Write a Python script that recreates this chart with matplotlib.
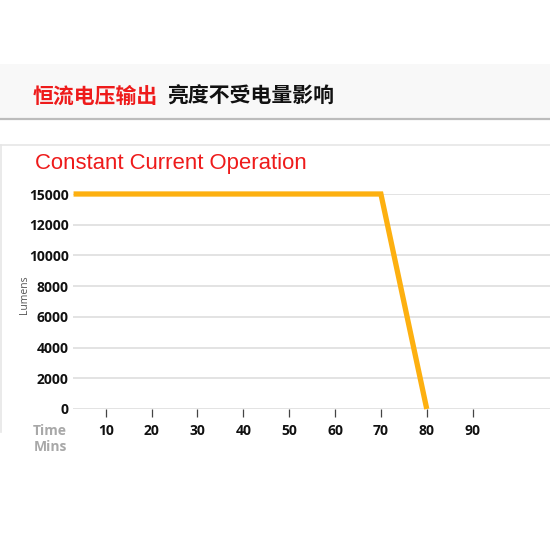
import matplotlib
matplotlib.use("Agg")
import matplotlib.pyplot as plt
import numpy as np
from matplotlib.patches import Rectangle
from matplotlib.lines import Line2D

# ---- data ----
time_mins = [3, 70, 80]
lumens = [15000, 15000, 0]
x_ticks = [10, 20, 30, 40, 50, 60, 70, 80, 90]
y_ticks = [0, 2000, 4000, 6000, 8000, 10000, 12000, 15000]
title_red = "恒流电压输出"
title_black = "亮度不受电量影响"
chart_title = "Constant Current Operation"

W = H = 550
fig = plt.figure(figsize=(5.5, 5.5), dpi=100)
fig.patch.set_facecolor("white")

def fx(px):
    return px / W

def fy(py):
    return 1 - py / H

# top banner
fig.patches.append(Rectangle((0, fy(118)), 1, fy(64) - fy(118), transform=fig.transFigure,
                             facecolor="#f8f8f8", edgecolor="none", zorder=0))
fig.lines.append(Line2D([0, 1], [fy(118.5), fy(118.5)], transform=fig.transFigure,
                        color="#bcbcbc", lw=1.6))
fig.text(fx(33), fy(96), title_red, color="#ee1b1b", fontsize=15, fontweight="heavy",
         family=["Noto Sans CJK SC", "DejaVu Sans"], va="center", ha="left")
fig.text(fx(167), fy(96), title_black, color="#111111", fontsize=15, fontweight="heavy",
         family=["Noto Sans CJK SC", "DejaVu Sans"], va="center", ha="left")

# chart box borders
fig.lines.append(Line2D([0, 1], [fy(145), fy(145)], transform=fig.transFigure,
                        color="#e6e6e6", lw=1.2))
fig.lines.append(Line2D([fx(1), fx(1)], [fy(145), fy(432)], transform=fig.transFigure,
                        color="#e6e6e6", lw=1.2))

fig.text(fx(35), fy(164), chart_title, color="#ee1b1b", fontsize=15.9,
         family="Liberation Sans", va="center", ha="left")

# x axis: px = 59.8 + 4.587 * t
def t_of(px):
    return (px - 59.8) / 4.587

# y axis: the top step (12000 -> 15000) is drawn the same height as a 2000 step
def y_fwd(y):
    y = np.asarray(y, dtype=float)
    return np.where(y <= 12000, y, 12000 + (y - 12000) * 2.0 / 3.0)

def y_inv(v):
    v = np.asarray(v, dtype=float)
    return np.where(v <= 12000, v, 12000 + (v - 12000) * 1.5)

ax = fig.add_axes([fx(73), fy(409), fx(550) - fx(73), fy(194) - fy(409)])
ax.set_yscale("function", functions=(y_fwd, y_inv))
ax.set_xlim(t_of(73), t_of(550))
ax.set_ylim(0, 15000)
for s in ax.spines.values():
    s.set_visible(False)
ax.set_facecolor("none")

ax.set_yticks(y_ticks)
ax.set_yticklabels([str(v) for v in y_ticks])
ax.yaxis.set_minor_locator(matplotlib.ticker.NullLocator())
ax.tick_params(axis="y", which="both", length=0, pad=3)
ax.set_xticks(x_ticks)
ax.set_xticklabels([str(v) for v in x_ticks])
ax.tick_params(axis="x", direction="out", length=5.5, width=0.9, color="#444444", pad=5)
for lab in ax.get_xticklabels() + ax.get_yticklabels():
    lab.set_fontfamily("Open Sans")
    lab.set_fontweight("bold")
    lab.set_fontsize(10)
    lab.set_color("#111111")

ax.yaxis.grid(True, color="#e3e3e3", lw=1.4)
ax.xaxis.grid(False)
ax.set_axisbelow(True)

ax.plot(time_mins, lumens, color="#fdb010", lw=3.8, solid_joinstyle="miter",
        solid_capstyle="butt", clip_on=False, zorder=3)

fig.text(fx(67), fy(431), "Time", color="#a8a8a8", fontsize=10, fontweight="bold",
         family="Open Sans", ha="right", va="center")
fig.text(fx(67), fy(447), "Mins", color="#a8a8a8", fontsize=10, fontweight="bold",
         family="Open Sans", ha="right", va="center")
fig.text(fx(25), fy(295), "Lumens", color="#555555", fontsize=7.5, rotation=90,
         family="Open Sans", ha="center", va="center")

fig.savefig("out.png", dpi=100)
